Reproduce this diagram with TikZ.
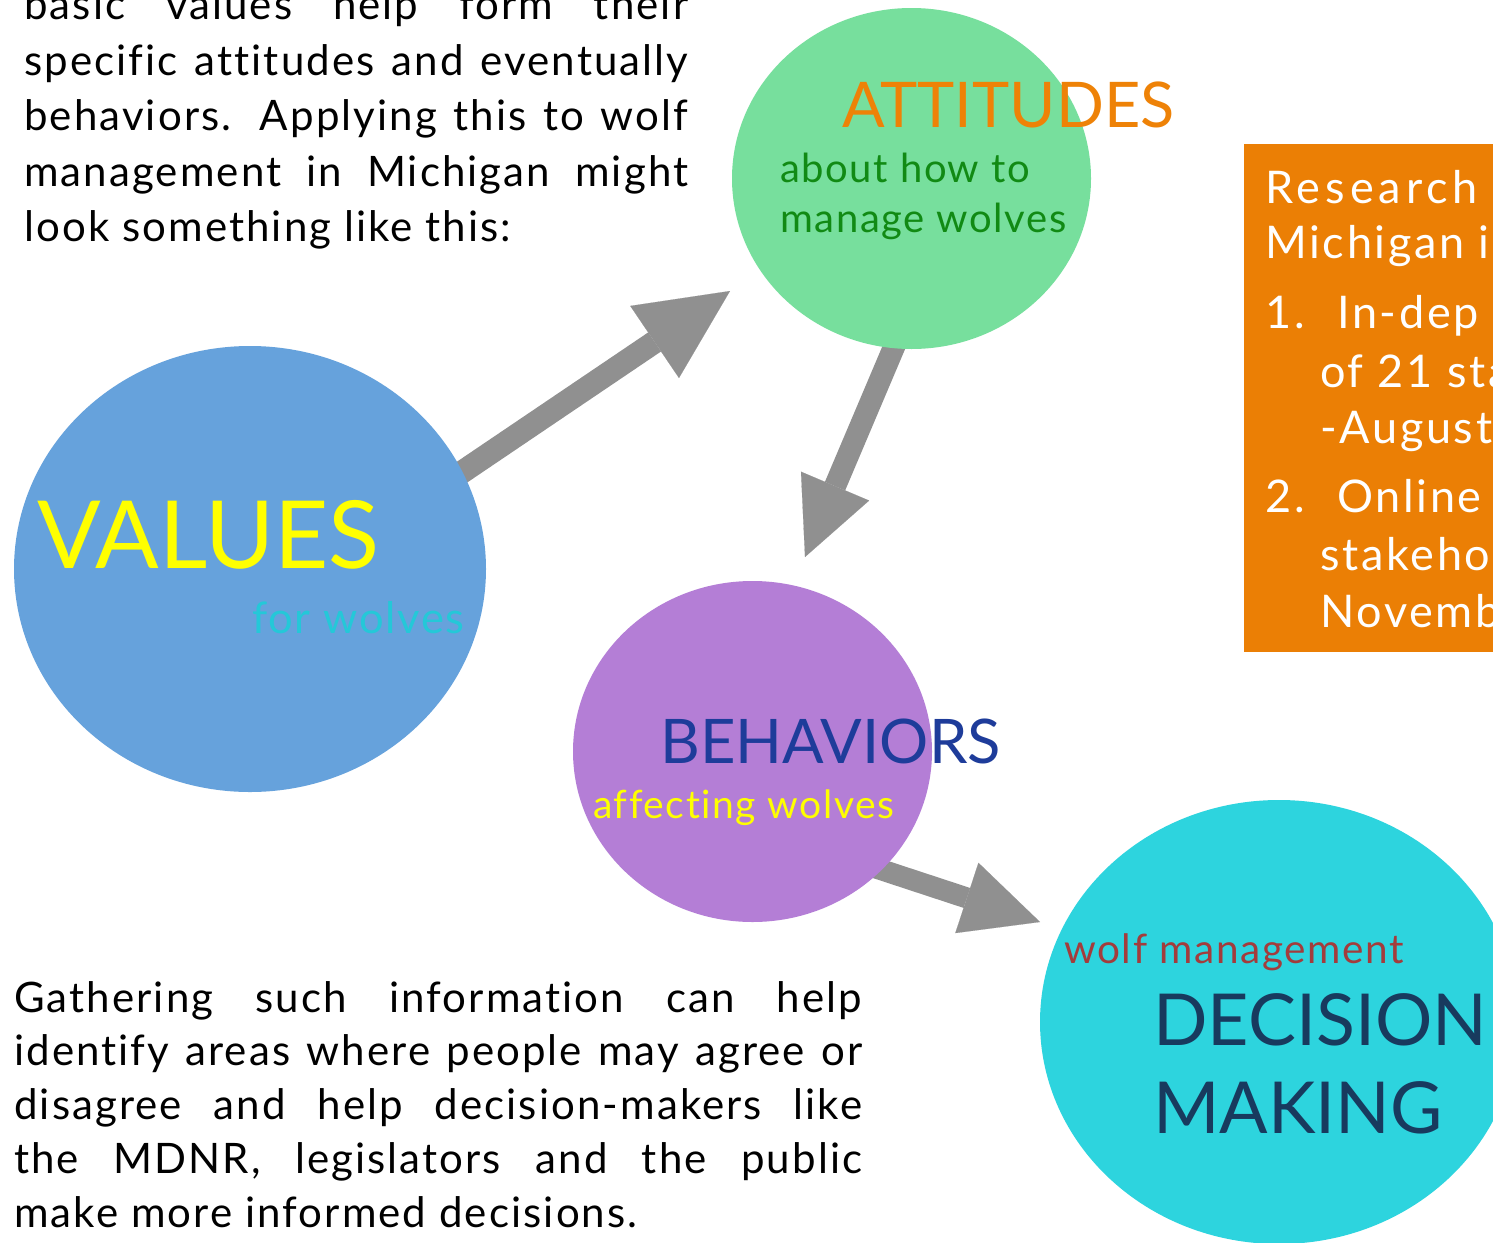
\documentclass[tikz,border=0pt]{standalone}
\usepackage{fontspec}
\setmainfont{Lato}[LetterSpace=4,Ligatures=NoCommon]
\newfontfamily\plainfont[Ligatures=NoCommon]{Lato}
\newfontfamily\bodyfont[LetterSpace=5,Ligatures=NoCommon]{Lato}
\newfontfamily\boxfont[LetterSpace=6,Ligatures=NoCommon]{Lato}
\usetikzlibrary{arrows.meta,shapes.geometric,backgrounds}
\definecolor{valblue}{HTML}{66A2DC}
\definecolor{attgreen}{HTML}{77DF9D}
\definecolor{behpurple}{HTML}{B47ED6}
\definecolor{deccyan}{HTML}{2DD4DE}
\definecolor{boxorange}{HTML}{EB7F05}
\definecolor{attorange}{HTML}{EE8207}
\definecolor{arrgray}{HTML}{909090}
\definecolor{darkgreentxt}{HTML}{118A14}
\definecolor{forcyan}{HTML}{24C8D8}
\definecolor{behblue}{HTML}{1E3C9A}
\definecolor{wolfred}{HTML}{A33C3C}
\definecolor{decnavy}{HTML}{183A5E}
\definecolor{yel}{HTML}{FFFF00}
\newcommand{\jline}[1]{\makebox[664pt][s]{#1}}
\newcommand{\kline}[1]{\makebox[848pt][s]{#1}}
\begin{document}
\begin{tikzpicture}[x=1pt,y=-1pt,
  txt/.style={inner sep=0pt, anchor=base west, font=\fontsize{42}{48}\bodyfont},
  lbl/.style={inner sep=0pt, anchor=base west},
  bubble/.style={ellipse, inner sep=0pt, draw=none},
  bigarrow/.style={draw=arrgray, line width=#1},
  boxtxt/.style={inner sep=0pt, anchor=base west, text=white, font=\fontsize{45}{54}\boxfont}]
\clip (0,0) rectangle (1493,1242);

% circles
\node[bubble, fill=valblue, minimum width=472pt, minimum height=446pt] (values) at (250,569) {};
\node[bubble, fill=attgreen, minimum width=359pt, minimum height=341pt] (attitudes) at (911.5,178.5) {};
\node[bubble, fill=behpurple, minimum width=359pt, minimum height=341pt] (behaviors) at (752.5,751.5) {};
\node[bubble, fill=deccyan, minimum width=478pt, minimum height=444pt] (decision) at (1279,1022) {};

% arrows (behind circles)
\coordinate (s1) at (440,487);
\coordinate (t1) at (730,291);
\coordinate (s2) at (922,281);
\coordinate (t2) at (805,557);
\coordinate (s3) at (803,844);
\coordinate (t3) at (1040,922);
\begin{pgfonlayer}{background}
\fill[white] (0,0) rectangle (1493,1242);
\draw[bigarrow=23pt, -{Triangle[length=91pt,width=87pt,line width=0.1pt]}, arrgray] (s1) -- (t1);
\draw[bigarrow=22pt, -{Triangle[length=77pt,width=74pt,line width=0.1pt]}, arrgray] (s2) -- (t2);
\draw[bigarrow=21pt, -{Triangle[length=77pt,width=74pt,line width=0.1pt]}, arrgray] (s3) -- (t3);
\end{pgfonlayer}

% circle labels
\node[lbl, text=attorange, font=\fontsize{63}{70}\plainfont] (attT) at (842,127) {ATTITUDES};
\node[lbl, text=darkgreentxt, font=\fontsize{40}{48}\selectfont] (att1) at (780,182) {about how to};
\node[lbl, text=darkgreentxt, font=\fontsize{40}{48}\selectfont] (att2) at (780,232) {manage wolves};
\node[lbl, text=yel, font=\fontsize{94}{100}\plainfont] (valT) at (37,568) {VALUES};
\node[lbl, text=forcyan, font=\fontsize{43.5}{50}\selectfont] (val1) at (252,633) {for wolves};
\node[lbl, text=behblue, font=\fontsize{61.5}{70}\plainfont] (behT) at (660,763) {BEHAVIORS};
\node[lbl, text=yel, font=\fontsize{39}{48}\selectfont] (beh1) at (593,818) {affecting wolves};
\node[lbl, text=wolfred, font=\fontsize{40.5}{48}\selectfont] (dec1) at (1064,963) {wolf management};
\node[lbl, text=decnavy, font=\fontsize{71.7}{80}\plainfont] (decT1) at (1153,1045) {DECISION};
\node[lbl, text=decnavy, font=\fontsize{71.7}{80}\plainfont] (decT2) at (1153,1133) {MAKING};

% orange box
\node[fill=boxorange, inner sep=0pt, anchor=north west, minimum width=300pt, minimum height=508pt] (box) at (1244,144) {};
\node[boxtxt] (b1) at (1265,203) {\addfontfeature{LetterSpace=11}Research};
\node[boxtxt] (b2) at (1265,258) {Michigan in};
\node[boxtxt] (b3n) at (1265,328) {1.};
\node[boxtxt] (b3) at (1337,328) {In-dep};
\node[boxtxt] (b4) at (1320,387) {of 21 sta};
\node[boxtxt] (b5) at (1320,443) {-August};
\node[boxtxt] (b6n) at (1265,512) {2.};
\node[boxtxt] (b6) at (1337,512) {Online};
\node[boxtxt] (b7) at (1320,570) {stakehol};
\node[boxtxt] (b8) at (1320,627) {Novemb};

% top paragraph
\node[txt] (p1) at (24,19.5) {\jline{basic values help form their}};
\node[txt] (p2) at (24,75) {\jline{specific attitudes and eventually}};
\node[txt] (p3) at (24,130.5) {\jline{behaviors. Applying this to wolf}};
\node[txt] (p4) at (24,186) {\jline{management in Michigan might}};
\node[txt] (p5) at (24,241.5) {look something like this:};

% bottom paragraph
\node[txt] (q1) at (14,1012) {\kline{Gathering such information can help}};
\node[txt] (q2) at (14,1065) {\kline{identify areas where people may agree or}};
\node[txt] (q3) at (14,1119) {\kline{disagree and help decision-makers like}};
\node[txt] (q4) at (14,1173) {\kline{the MDNR, legislators and the public}};
\node[txt] (q5) at (14,1227) {make more informed decisions.};
\end{tikzpicture}
\end{document}
